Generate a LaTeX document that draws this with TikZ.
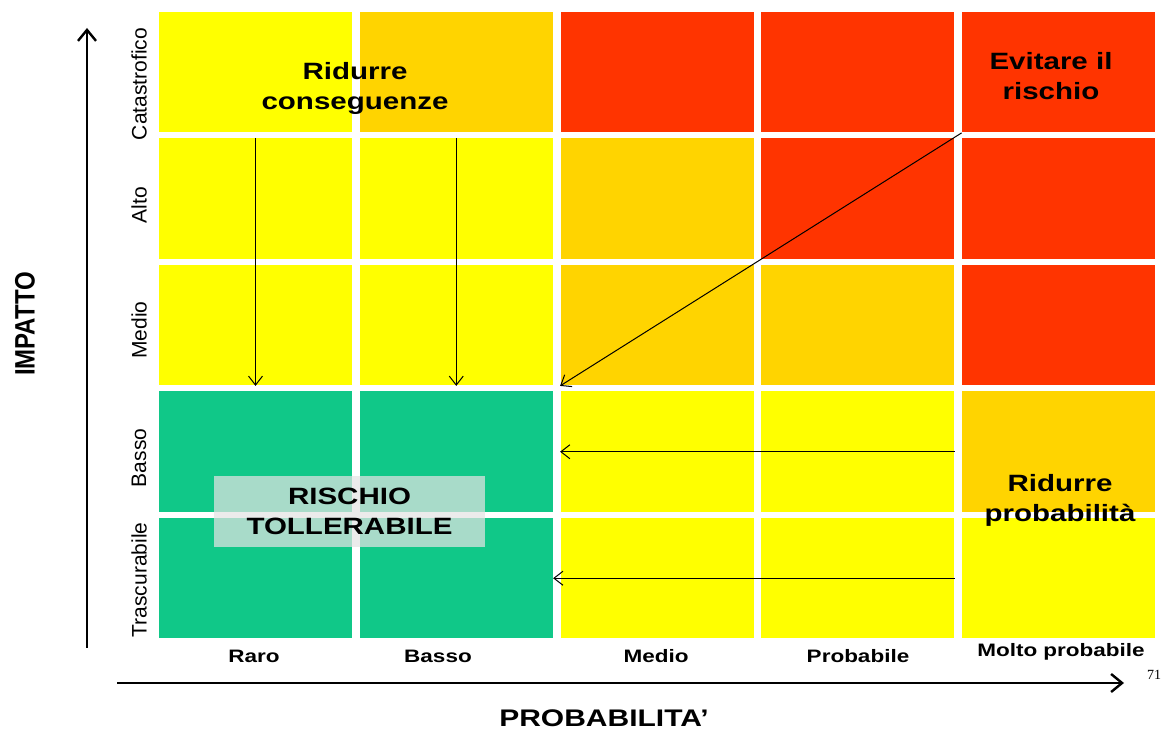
\documentclass[tikz,border=0pt]{standalone}
\usepackage{fontspec}
\usepackage{xcolor}
\usepackage{tikz}
\usetikzlibrary{arrows.meta}
\setmainfont{Liberation Sans}
\newfontfamily\widefont[FakeStretch=1.25]{Liberation Sans}
\newfontfamily\pagefont{Liberation Serif}
\definecolor{yel}{RGB}{255,255,0}
\definecolor{amber}{RGB}{255,212,0}
\definecolor{hot}{RGB}{255,52,0}
\definecolor{safe}{RGB}{16,200,136}

\begin{document}
\begin{tikzpicture}[x=0.5pt, y=-0.5pt,
  cell/.style={minimum width=96.5pt, minimum height=60.25pt, inner sep=0pt},
  rowlab/.style={rotate=90, font=\fontsize{10.5}{12}\selectfont},
  collab/.style={font=\widefont\bfseries\fontsize{9}{11}\selectfont},
  note/.style={align=center, font=\widefont\bfseries\fontsize{11.8}{15}\selectfont},
  shift arrow/.style={line width=0.5pt, -{Straight Barb[length=4.5pt, width=7pt]}},
  axis arrow/.style={line width=1.2pt, -{Straight Barb[length=5.5pt, width=9pt]}}]
\useasboundingbox (0, 0) rectangle (1174, 731);
\node[cell, fill=yel] (c11) at (255.5, 72.25) {};
\node[cell, fill=amber] (c12) at (456.25, 72.25) {};
\node[cell, fill=hot] (c13) at (657, 72.25) {};
\node[cell, fill=hot] (c14) at (857.75, 72.25) {};
\node[cell, fill=hot] (c15) at (1058.5, 72.25) {};
\node[cell, fill=yel] (c21) at (255.5, 198.75) {};
\node[cell, fill=yel] (c22) at (456.25, 198.75) {};
\node[cell, fill=amber] (c23) at (657, 198.75) {};
\node[cell, fill=hot] (c24) at (857.75, 198.75) {};
\node[cell, fill=hot] (c25) at (1058.5, 198.75) {};
\node[cell, fill=yel] (c31) at (255.5, 325.25) {};
\node[cell, fill=yel] (c32) at (456.25, 325.25) {};
\node[cell, fill=amber] (c33) at (657, 325.25) {};
\node[cell, fill=amber] (c34) at (857.75, 325.25) {};
\node[cell, fill=hot] (c35) at (1058.5, 325.25) {};
\node[cell, fill=safe] (c41) at (255.5, 451.75) {};
\node[cell, fill=safe] (c42) at (456.25, 451.75) {};
\node[cell, fill=yel] (c43) at (657, 451.75) {};
\node[cell, fill=yel] (c44) at (857.75, 451.75) {};
\node[cell, fill=amber] (c45) at (1058.5, 451.75) {};
\node[cell, fill=safe] (c51) at (255.5, 578.25) {};
\node[cell, fill=safe] (c52) at (456.25, 578.25) {};
\node[cell, fill=yel] (c53) at (657, 578.25) {};
\node[cell, fill=yel] (c54) at (857.75, 578.25) {};
\node[cell, fill=yel] (c55) at (1058.5, 578.25) {};

\node[rowlab] (catastrofico) at (139, 84) {Catastrofico};
\node[rowlab] (alto) at (139, 205) {Alto};
\node[rowlab] (medio) at (139, 330) {Medio};
\node[rowlab] (basso) at (139, 458) {Basso};
\node[rowlab] (trascurabile) at (139, 580) {Trascurabile};

\node[collab] (raro) at (254, 656) {Raro};
\node[collab] (bassop) at (438, 656) {Basso};
\node[collab] (mediop) at (656, 656) {Medio};
\node[collab] (probabile) at (858, 656) {Probabile};
\node[collab] (molto) at (1061, 652) {Molto probabile};

\node[note] (conseg) at (355, 88) {Ridurre\\conseguenze};
\node[note] (evitare) at (1051, 76) {Evitare il\\rischio};
\node[note] (ridprob) at (1060, 500) {Ridurre\\probabilità};
\node[note, fill=white!89!black, fill opacity=0.72, text opacity=1,
  minimum width=135.5pt, minimum height=35.5pt] (toll) at (349.5, 511.5)
  {RISCHIO\\TOLLERABILE};

\draw[shift arrow] (c21.north) -- (c31.south);
\draw[shift arrow] (c22.north) -- (c32.south);
\draw[shift arrow] (c15.south west) -- (c33.south west);
\draw[shift arrow] (c44.east) -- (c43.west);
\draw[shift arrow] (c54.east) -- (c52.east);

\coordinate (ybot) at (87, 648);
\coordinate (ytop) at (87, 28);
\coordinate (xleft) at (117, 683);
\coordinate (xright) at (1124, 683);
\draw[axis arrow] (ybot) -- (ytop);
\draw[axis arrow] (xleft) -- (xright);
\node[rotate=90] (impatto) at (25, 324)
  {\scalebox{1}[1.17]{\bfseries\fontsize{12}{14}\selectfont IMPATTO}};
\node[font=\widefont\bfseries\fontsize{12}{14}\selectfont] (prob) at (604, 718)
  {PROBABILITA’};
\node[font=\pagefont\fontsize{7}{8}\selectfont] (pagenum) at (1154, 675) {71};
\end{tikzpicture}
\end{document}
